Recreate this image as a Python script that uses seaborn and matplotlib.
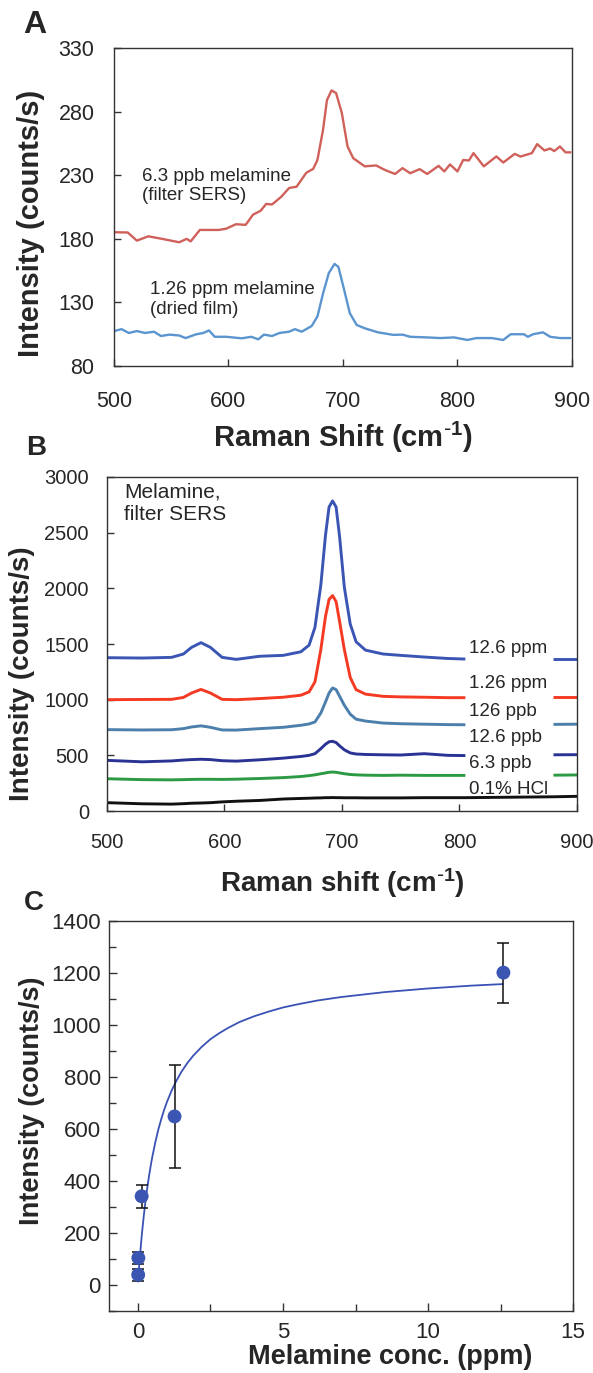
import numpy as np
import matplotlib
matplotlib.use('Agg')
import matplotlib.pyplot as plt
from matplotlib.ticker import MultipleLocator
import seaborn as sns

# ---- panel A: single spectra ----
a_sers_x = [500, 512, 520, 530, 542, 557, 563.5, 567, 575, 591.6, 598, 606.5, 615, 621.4, 628, 633,
            638, 646, 653, 659.5, 668, 674, 677.7, 682.6, 686, 690, 694, 699, 704, 709, 719, 729,
            737, 745.5, 752, 758.7, 767, 773.6, 783.5, 788.5, 793.5, 800, 805, 810, 814, 823, 834,
            840, 850, 855, 865, 869.6, 876, 881, 884.5, 889.5, 894.4, 899.4]
a_sers_y = [185.2, 185, 178.6, 182, 180, 177.3, 180, 178, 187, 187, 188, 191.5, 191, 199, 202, 207.5,
            207, 213, 220, 221, 232, 235, 242, 265.7, 289, 296.7, 294.6, 279, 252.6, 243.4, 237, 237.7,
            234, 231, 235.6, 231.6, 234.8, 231, 237.4, 233, 238.5, 233, 242, 241.6, 247.4, 237, 244.8,
            240, 246.8, 244.7, 247.4, 254.5, 249.5, 251, 249, 252.6, 248, 248]
a_film_x = [500, 506.6, 513, 520, 527, 535, 541, 548.6, 557, 562.5, 572, 578, 583, 588, 598, 611.5,
            620, 626, 631, 638, 644.6, 653, 658, 664, 672.7, 677.7, 682.6, 687.6, 692.6, 696, 701,
            706, 712, 719, 730.6, 744, 752, 758.7, 773.6, 785, 797, 808.7, 816.6, 830, 840, 846.5,
            858, 861.5, 866, 874.7, 881, 889.5, 899.4]
a_film_y = [107.5, 109, 106, 107.5, 106, 107, 103.6, 104.7, 104, 102, 105, 106, 108, 103, 103, 101.8,
            103, 101, 104.7, 103.6, 106, 107, 109, 107, 111.5, 119, 137, 153, 160.3, 158, 140,
            121.5, 112.3, 109.7, 106.5, 104.5, 104.7, 103, 102.5, 102, 102.5, 100.5, 102, 102, 100.5, 105,
            105, 103, 105, 106.5, 103, 102, 102]

# ---- panel B: concentration series ----
b_x = [500, 530, 555, 565, 572, 580, 588, 598, 610, 630, 650, 665, 672, 677, 682, 686, 689, 692,
       695, 698, 702, 707, 712, 720, 735, 750, 770, 790, 805, 880, 900]
b_labels = ['12.6 ppm', '1.26 ppm', '126 ppb', '12.6 ppb', '6.3 ppb', '0.1% HCl']
b_126ppm = [1377, 1374, 1380, 1410, 1470, 1512, 1470, 1380, 1362, 1390, 1398, 1430, 1490, 1650, 2030,
            2480, 2730, 2785, 2730, 2460, 2010, 1680, 1520, 1445, 1410, 1398, 1383, 1370, 1365, 1368, 1368]
b_126ppm_1 = [1000, 1002, 1003, 1020, 1060, 1092, 1060, 1003, 1000, 1010, 1022, 1040, 1070, 1160, 1450,
              1750, 1900, 1935, 1880, 1700, 1450, 1200, 1090, 1050, 1030, 1025, 1022, 1018, 1018, 1020, 1020]
b_126ppb = [731, 728, 730, 740, 755, 765, 752, 728, 727, 740, 752, 770, 782, 800, 880, 980, 1060, 1105,
            1090, 1030, 950, 870, 825, 808, 790, 784, 780, 776, 775, 778, 780]
b_126ppb_1 = [455, 442, 450, 458, 462, 465, 462, 452, 448, 460, 475, 490, 500, 515, 560, 600, 622, 626,
              615, 585, 550, 522, 512, 508, 505, 503, 515, 500, 498, 505, 506]
b_63ppb = [290, 282, 280, 282, 284, 285, 285, 284, 286, 292, 300, 310, 318, 325, 335, 342, 348, 350,
           348, 342, 335, 328, 325, 322, 320, 322, 320, 320, 320, 322, 324]
b_hcl = [75, 65, 62, 66, 70, 72, 75, 82, 88, 95, 108, 113, 115, 117, 118, 120, 120, 121, 120, 120,
         119, 119, 119, 118, 118, 118, 120, 120, 120, 128, 132]
b_label_y = [1464, 1141, 898, 656, 431, 189]

# ---- panel C: calibration ----
c_conc = [0.0063, 0.0126, 0.126, 1.26, 12.6]
c_int = [39, 104, 341, 648, 1201]
c_err = [22, 24, 45, 197, 115]
# fitted curve
fit_x = [0, 0.01, 0.02, 0.035, 0.05, 0.075, 0.1, 0.125, 0.15, 0.2, 0.25, 0.3, 0.375, 0.45, 0.5, 0.6,
         0.7, 0.8, 0.9, 1.0, 1.15, 1.3, 1.5, 1.7, 1.9, 2.2, 2.5, 2.8, 3.1, 3.5, 4.0, 4.5, 5.0, 5.5,
         6.2, 7.0, 8.5, 10.0, 11.5, 12.6]
fit_y = [10, 26, 42, 64, 86, 120, 153, 184, 213, 266, 314, 357, 415, 466, 496, 550, 597, 637, 673,
         704, 745, 780, 820, 853, 881, 916, 945, 968, 988, 1011, 1033, 1051, 1067, 1079, 1094, 1107,
         1126, 1140, 1151, 1157]

sns.set_theme(style='ticks')
plt.rcParams['font.family'] = ['Liberation Sans', 'DejaVu Sans']
plt.rcParams['mathtext.default'] = 'regular'
plt.rcParams['axes.edgecolor'] = '#333333'
plt.rcParams['axes.linewidth'] = 1.0
plt.rcParams['lines.solid_joinstyle'] = 'round'
plt.rcParams['lines.solid_capstyle'] = 'butt'

fig = plt.figure(figsize=(5.93, 13.73), dpi=100)
axA = fig.add_axes([0.1922, 0.7334, 0.7723, 0.2316])
axB = fig.add_axes([0.1804, 0.4093, 0.7926, 0.2433])
axC = fig.add_axes([0.1838, 0.0452, 0.7825, 0.2841])

# A
sns.lineplot(x=a_sers_x, y=a_sers_y, ax=axA, color='#d0605a', lw=1.7)
sns.lineplot(x=a_film_x, y=a_film_y, ax=axA, color='#5b95cf', lw=1.7)
axA.set_xlim(500, 900)
axA.set_ylim(80, 330)
axA.set_xticks([500, 600, 700, 800, 900])
axA.set_yticks([80, 130, 180, 230, 280, 330])
axA.tick_params(direction='in', length=5, width=1, labelsize=15.5, color='#333333')
axA.tick_params(axis='x', pad=18)
axA.tick_params(axis='y', pad=14)
axA.text(524.8, 221.5, '6.3 ppb melamine\n(filter SERS)', fontsize=13.5, va='center', ha='left')
axA.text(531.5, 132.2, '1.26 ppm melamine\n(dried film)', fontsize=13.5, va='center', ha='left')
axA.set_xlabel(r'Raman Shift (cm$^{\text{-}1}$)', fontsize=21, fontweight='bold')
axA.set_ylabel('Intensity (counts/s)', fontsize=21, fontweight='bold')
axA.xaxis.set_label_coords(0.5, -0.17)
axA.yaxis.set_label_coords(-0.151, 0.45)

# B
b_series = [b_126ppm, b_126ppm_1, b_126ppb, b_126ppb_1, b_63ppb, b_hcl]
b_colors = ['#3a55b4', '#f53a24', '#4c7fab', '#2a3394', '#2b9a42', '#111111']
bx = np.array(b_x)
left = bx <= 805
right = bx >= 880
for i, (vals, col) in enumerate(zip(b_series, b_colors)):
    vals = np.array(vals)
    if i == len(b_series) - 1:
        sns.lineplot(x=bx, y=vals, ax=axB, color=col, lw=2.1)
    else:
        sns.lineplot(x=bx[left], y=vals[left], ax=axB, color=col, lw=2.1)
        sns.lineplot(x=bx[right], y=vals[right], ax=axB, color=col, lw=2.1)
    axB.text(808, b_label_y[i], b_labels[i], fontsize=13.5, va='center', ha='left')
axB.set_xlim(500, 900)
axB.set_ylim(0, 3000)
axB.set_xticks([500, 600, 700, 800, 900])
axB.set_yticks([0, 500, 1000, 1500, 2000, 2500, 3000])
axB.tick_params(direction='in', length=5, width=1, labelsize=14.5, color='#333333')
axB.tick_params(axis='x', pad=16)
axB.tick_params(axis='y', pad=13)
axB.text(514.5, 2766, 'Melamine,\nfilter SERS', fontsize=15, va='center', ha='left')
axB.set_xlabel(r'Raman shift (cm$^{\text{-}1}$)', fontsize=20, fontweight='bold')
axB.set_ylabel('Intensity (counts/s)', fontsize=20, fontweight='bold')
axB.xaxis.set_label_coords(0.5, -0.165)
axB.yaxis.set_label_coords(-0.153, 0.41)

# C
sns.lineplot(x=fit_x, y=fit_y, ax=axC, color='#3b52b5', lw=1.3, zorder=2)
axC.errorbar(c_conc, c_int, yerr=c_err, fmt='none', ecolor='#111111', elinewidth=1.1,
             capsize=4, capthick=1.1, zorder=3)
sns.scatterplot(x=c_conc, y=c_int, ax=axC, color='#3a56b2', s=100, edgecolor='none', zorder=4)
axC.set_xlim(-1, 15)
axC.set_ylim(-100, 1400)
axC.set_xticks([0, 5, 10, 15])
axC.set_yticks(range(0, 1401, 200))
axC.xaxis.set_minor_locator(MultipleLocator(2.5))
axC.yaxis.set_minor_locator(MultipleLocator(100))
axC.tick_params(which='both', direction='in', width=1, color='#333333')
axC.tick_params(which='major', length=6, labelsize=16)
axC.tick_params(which='minor', length=5)
axC.tick_params(axis='x', pad=8)
axC.tick_params(axis='y', pad=6)
axC.set_xlabel('Melamine conc. (ppm)', fontsize=19.5, fontweight='bold')
axC.set_ylabel('Intensity (counts/s)', fontsize=19.5, fontweight='bold')
axC.xaxis.set_label_coords(0.605, -0.085)
axC.yaxis.set_label_coords(-0.137, 0.54)

for ax in (axA, axB, axC):
    for sp in ax.spines.values():
        sp.set_visible(True)

fig.text(35 / 593, 1 - 25 / 1373, 'A', fontsize=23, fontweight='bold', ha='center', va='center')
fig.text(36 / 593, 1 - 448 / 1373, 'B', fontsize=20, fontweight='bold', ha='center', va='center')
fig.text(34 / 593, 1 - 903 / 1373, 'C', fontsize=20, fontweight='bold', ha='center', va='center')

fig.savefig('out.png', dpi=100)
